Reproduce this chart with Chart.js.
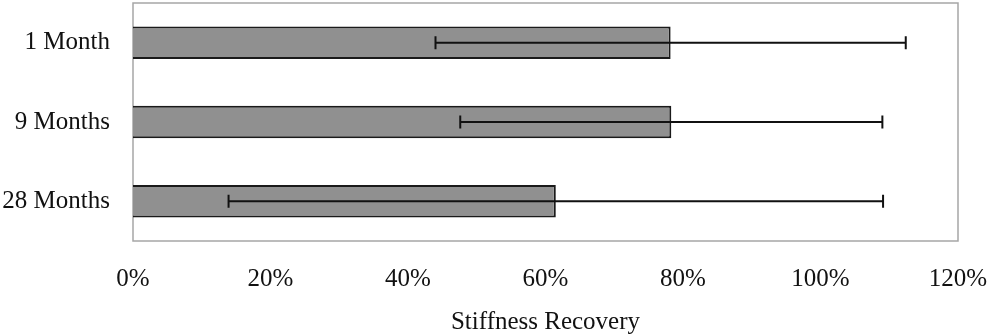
<!DOCTYPE html>
<html>
<head>
<meta charset="utf-8">
<script src="https://cdn.jsdelivr.net/npm/chart.js@4"></script>
<style>
  html, body { margin: 0; padding: 0; background: #fff; }
  #wrap { width: 988px; height: 335px; }
</style>
</head>
<body>
<div id="wrap"><canvas id="stiffness_chart"></canvas></div>
<script>
// values
const categories = ["1 Month", "9 Months", "28 Months"];
const recovery = [78.2, 78.3, 61.5];
const errorPlusMinus = [34.2, 30.7, 47.6];
const xTicks = [0, 20, 40, 60, 80, 100, 120];

const FONT = "'Liberation Serif', 'Times New Roman', serif";

// draws symmetric error bars using the chart's own scales
const errorBars = {
    id: "errorBars",
    afterDatasetsDraw(chart) {
        const ctx = chart.ctx;
        const xs = chart.scales.x;
        const ys = chart.scales.y;
        ctx.save();
        ctx.strokeStyle = "#111";
        ctx.lineWidth = 2;
        recovery.forEach((v, i) => {
            const y = ys.getPixelForValue(i);
            const lo = xs.getPixelForValue(v - errorPlusMinus[i]);
            const hi = xs.getPixelForValue(v + errorPlusMinus[i]);
            ctx.beginPath();
            ctx.moveTo(lo, y); ctx.lineTo(hi, y);
            ctx.moveTo(lo, y - 6.5); ctx.lineTo(lo, y + 6.5);
            ctx.moveTo(hi, y - 6.5); ctx.lineTo(hi, y + 6.5);
            ctx.stroke();
        });
        ctx.restore();
    }
};

// grey frame around the plot area
const plotFrame = {
    id: "plotFrame",
    beforeDatasetsDraw(chart) {
        const a = chart.chartArea;
        const ctx = chart.ctx;
        ctx.save();
        ctx.strokeStyle = "#a6a6a6";
        ctx.lineWidth = 1.5;
        ctx.strokeRect(a.left, a.top, a.right - a.left, a.bottom - a.top);
        ctx.restore();
    }
};

new Chart(document.getElementById("stiffness_chart"), {
    type: "bar",
    data: {
        labels: categories,
        datasets: [{
            label: "Stiffness Recovery",
            data: recovery,
            backgroundColor: "#909090",
            borderColor: "#1a1a1a",
            borderWidth: 2,
            barPercentage: 0.41,
            categoryPercentage: 1.0
        }]
    },
    options: {
        indexAxis: "y",
        responsive: true,
        maintainAspectRatio: false,
        animation: false,
        layout: { padding: { top: 3, right: 30, left: 0, bottom: 0 } },
        plugins: {
            legend: { display: false },
            tooltip: { enabled: false }
        },
        scales: {
            x: {
                min: 0,
                max: 120,
                afterBuildTicks: (scale) => { scale.ticks = xTicks.map(v => ({ value: v })); },
                afterFit: (scale) => {
                    scale.height = 94;
                    // keep label overhang from shrinking the plot area
                    scale.paddingLeft = 0;
                    scale.paddingRight = 0;
                },
                grid: { display: false, drawTicks: false },
                border: { display: false },
                ticks: {
                    padding: 23,
                    maxRotation: 0,
                    color: "#111",
                    font: { family: FONT, size: 25 },
                    callback: (v) => v + "%"
                },
                title: {
                    display: true,
                    text: "Stiffness Recovery",
                    color: "#111",
                    font: { family: FONT, size: 25, lineHeight: 1 },
                    padding: { top: 0, bottom: 0 }
                }
            },
            y: {
                afterFit: (scale) => {
                    scale.width = 133;
                    scale.paddingTop = 0;
                    scale.paddingBottom = 0;
                },
                grid: { display: false, drawTicks: false },
                border: { display: false },
                ticks: {
                    padding: 23,
                    color: "#111",
                    font: { family: FONT, size: 25 }
                }
            }
        }
    },
    plugins: [plotFrame, errorBars]
});
</script>
</body>
</html>
